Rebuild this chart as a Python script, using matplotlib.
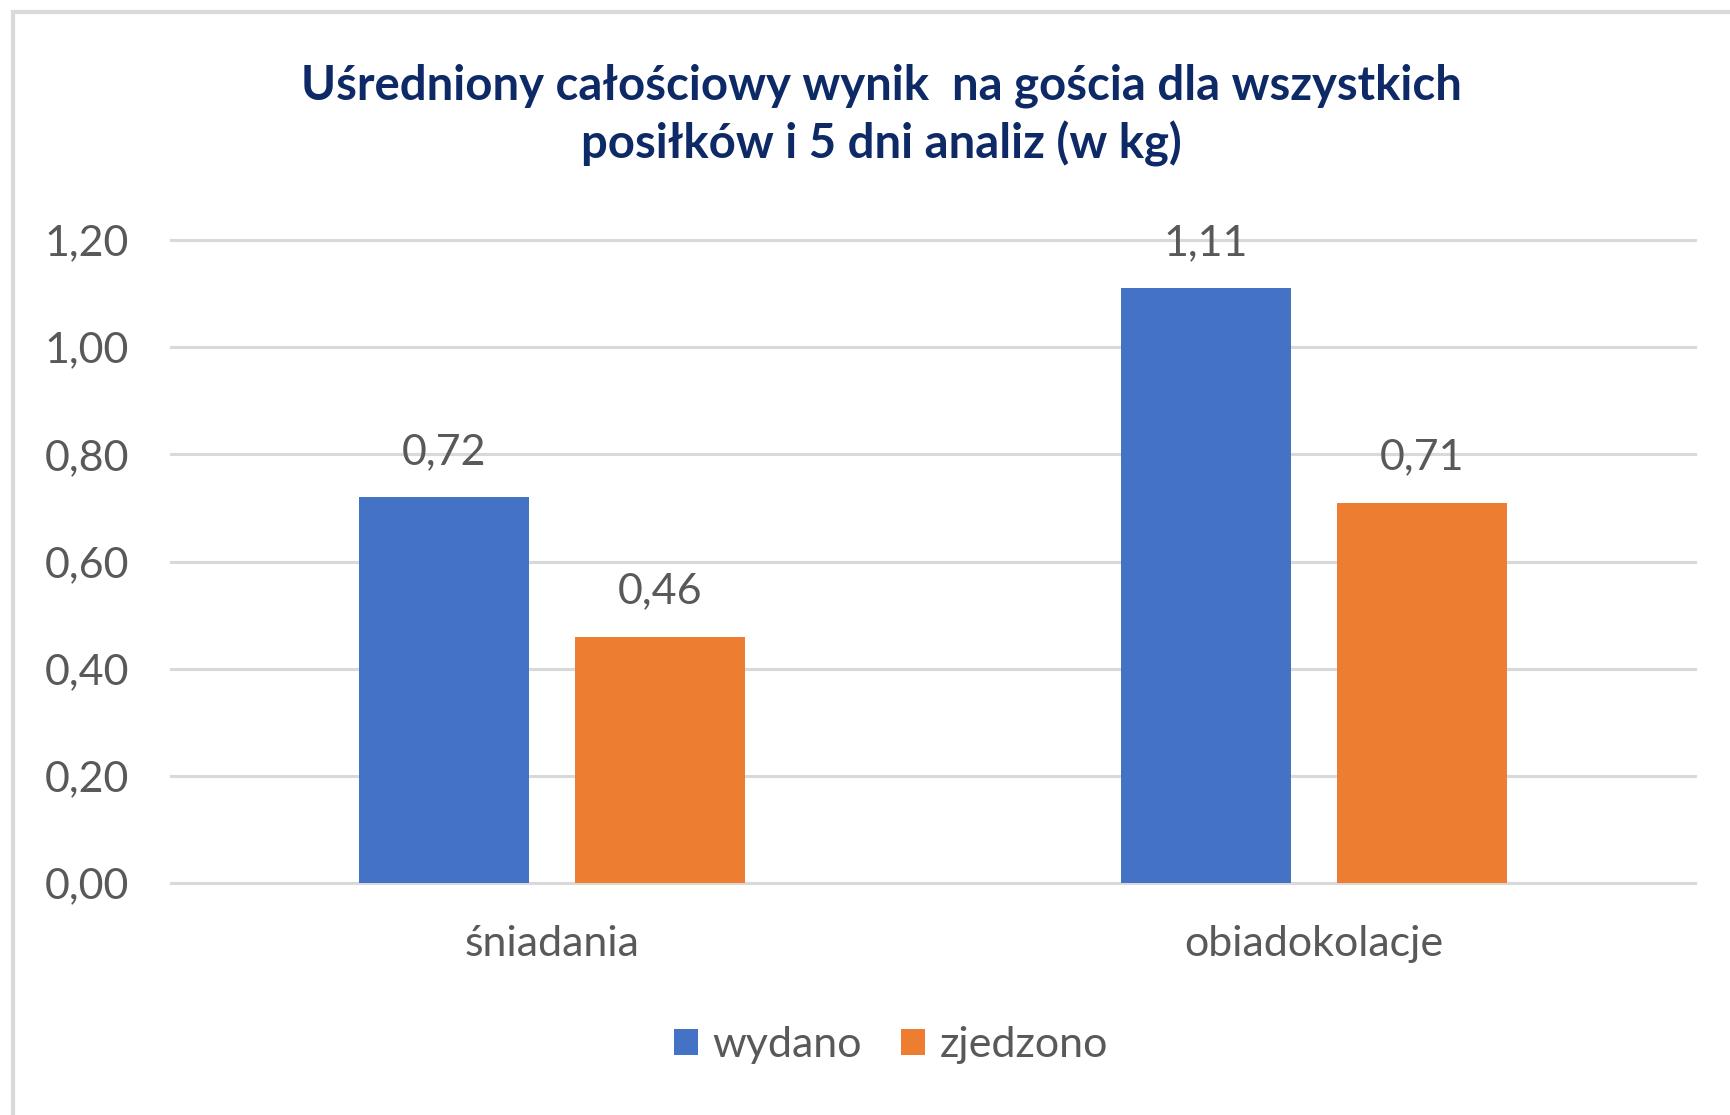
import matplotlib.pyplot as plt
from matplotlib.patches import Rectangle
import numpy as np

plt.rcParams['font.family'] = ['Lato', 'DejaVu Sans']

# dane
categories = ['śniadania', 'obiadokolacje']
series = ['wydano', 'zjedzono']
wydano = [0.72, 1.11]
zjedzono = [0.46, 0.71]
yticks = [0.0, 0.2, 0.4, 0.6, 0.8, 1.0, 1.2]
title = 'Uśredniony całościowy wynik  na gościa dla wszystkich\nposiłków i 5 dni analiz (w kg)'

colors = ['#4472C4', '#ED7D31']
grid_c = '#D9D9D9'
text_c = '#595959'
fs = 31

W, H = 1731, 1115
fig = plt.figure(figsize=(W / 100, H / 100), dpi=100)
ax = fig.add_axes([171 / W, 1 - 883 / H, (1695 - 171) / W, (883 - 240) / H])

# ramka wykresu (tylko lewa i gorna krawedz widoczna)
fig.patches.append(Rectangle((13 / W, -0.1), 1.2, 1.1 - 12 / H, transform=fig.transFigure,
                             fill=False, edgecolor=grid_c, linewidth=3))

x = np.arange(len(categories))
bw = 0.222
off = 0.1417
for i, (vals, c, name) in enumerate(zip([wydano, zjedzono], colors, series)):
    pos = x + (off if i else -off)
    bars = ax.bar(pos, vals, bw, color=c, label=name, zorder=3)
    for b, v in zip(bars, vals):
        ax.annotate(('%.2f' % v).replace('.', ','), (b.get_x() + b.get_width() / 2, v),
                    xytext=(0, 19), textcoords='offset points', ha='center', va='bottom',
                    fontsize=fs, color=text_c)

for t in yticks:
    ax.axhline(t, color=grid_c, linewidth=2.2, zorder=1, clip_on=False)

ax.set_xlim(-0.5, len(categories) - 0.5)
ax.set_ylim(0, 1.2)
ax.set_yticks(yticks)
ax.set_yticklabels([('%.2f' % t).replace('.', ',') for t in yticks])
ax.set_xticks(x)
ax.set_xticklabels(categories)
ax.tick_params(axis='y', length=0, pad=30, labelsize=fs, labelcolor=text_c)
ax.tick_params(axis='x', length=0, pad=30, labelsize=fs, labelcolor=text_c)
for s in ax.spines.values():
    s.set_visible(False)

fig.text(881 / W, 1 - 115 / H, title, ha='center', va='center', fontsize=34,
         fontweight='bold', color='#0E2A66', linespacing=1.35)

fig.legend(loc='center', bbox_to_anchor=(891 / W, 1 - 1045 / H), ncol=2, frameon=False,
           fontsize=fs, labelcolor=text_c, handlelength=0.55, handleheight=0.55,
           handletextpad=0.35, columnspacing=0.9)

fig.savefig('out.png', dpi=100, facecolor='white')
